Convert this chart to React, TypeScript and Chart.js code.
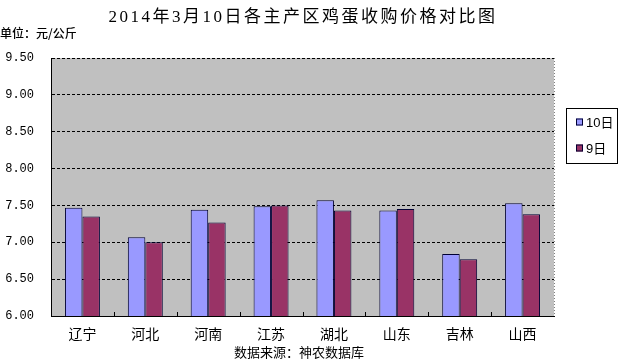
import React, { useEffect, useRef } from "react";
import { Chart, registerables } from "chart.js";

Chart.register(...registerables);

const categories = ["辽宁", "河北", "河南", "江苏", "湖北", "山东", "吉林", "山西"];
const day10 = [7.47, 7.07, 7.44, 7.49, 7.57, 7.43, 6.84, 7.53];
const day9 = [7.35, 7.0, 7.27, 7.5, 7.43, 7.45, 6.77, 7.38];
const seriesNames = ["10日", "9日"];
const seriesColors = ["#9999FF", "#993366"];
const titleText = "2014年3月10日各主产区鸡蛋收购价格对比图";
const unitText = "单位：元/公斤";
const sourceText = "数据来源：神农数据库";

const CJK = '"Noto Sans CJK SC"';

const decorPlugin = {
  id: "decor",
  beforeDraw(chart: any) {
    const { ctx, chartArea: a } = chart;
    ctx.save();
    ctx.fillStyle = "#C0C0C0";
    ctx.fillRect(a.left, a.top, a.right - a.left, a.bottom - a.top);
    ctx.restore();
  },
  afterDraw(chart: any) {
    const { ctx, chartArea: a } = chart;
    const x = chart.scales.x;
    ctx.save();
    // right dotted edge
    ctx.strokeStyle = "#808080";
    ctx.lineWidth = 1;
    ctx.setLineDash([1, 2]);
    ctx.beginPath();
    ctx.moveTo(Math.round(a.right) + 0.5, a.top);
    ctx.lineTo(Math.round(a.right) + 0.5, a.bottom);
    ctx.stroke();
    ctx.setLineDash([]);
    // inner x ticks at category boundaries
    ctx.strokeStyle = "#000";
    const n = chart.data.labels.length;
    for (let i = 0; i < n - 1; i++) {
      const bx = Math.round((x.getPixelForTick(i) + x.getPixelForTick(i + 1)) / 2) + 0.5;
      ctx.beginPath();
      ctx.moveTo(bx, a.bottom);
      ctx.lineTo(bx, a.bottom - 4);
      ctx.stroke();
    }
    // title
    ctx.fillStyle = "#000";
    ctx.textBaseline = "middle";
    ctx.textAlign = "center";
    (ctx as any).letterSpacing = "2.5px";
    ctx.font = `17px "Liberation Serif", ${CJK}`;
    ctx.fillText(titleText, 303, 18);
    (ctx as any).letterSpacing = "0px";
    // unit
    ctx.textAlign = "left";
    ctx.font = `500 12px ${CJK}`;
    ctx.fillText(unitText, 0, 33);
    // source
    ctx.textAlign = "center";
    ctx.font = `13px ${CJK}`;
    ctx.fillText(sourceText, 299, 352);
    // legend
    ctx.strokeStyle = "#000";
    ctx.lineWidth = 1;
    ctx.strokeRect(566.5, 108.5, 51, 55);
    const ds = chart.data.datasets;
    const ys = [122, 148];
    ctx.textAlign = "left";
    ctx.font = `13px "Liberation Sans", ${CJK}`;
    ds.forEach((d: any, i: number) => {
      ctx.fillStyle = d.backgroundColor;
      ctx.fillRect(576, ys[i] - 3.5, 7, 7);
      ctx.strokeStyle = "#000033";
      ctx.strokeRect(576.5, ys[i] - 3.5 + 0.5, 6, 6);
      ctx.fillStyle = "#000";
      ctx.fillText(d.label, 586, ys[i] + 1);
    });
    ctx.restore();
  },
};

export default function App() {
  const ref = useRef<HTMLCanvasElement>(null);
  useEffect(() => {
    if (!ref.current) return;
    const chart = new Chart(ref.current, {
      type: "bar",
      data: {
        labels: categories,
        datasets: [
          {
            label: seriesNames[0],
            data: day10,
            backgroundColor: seriesColors[0],
            borderColor: "#000033",
            borderWidth: 1,
            categoryPercentage: 0.556,
            barPercentage: 1,
          },
          {
            label: seriesNames[1],
            data: day9,
            backgroundColor: seriesColors[1],
            borderColor: "#000033",
            borderWidth: 1,
            categoryPercentage: 0.556,
            barPercentage: 1,
          },
        ],
      },
      options: {
        animation: false,
        responsive: false,
        maintainAspectRatio: false,
        layout: { padding: { top: 58, right: 75, left: 0, bottom: 0 } },
        plugins: {
          legend: { display: false },
          title: { display: false },
          tooltip: { enabled: false },
        },
        scales: {
          x: {
            grid: { display: false, drawTicks: false, tickLength: 0 },
            border: { display: true, color: "#000", width: 1 },
            ticks: {
              color: "#000",
              padding: 9,
              font: { family: "Noto Sans CJK SC", size: 14 },
            },
            afterFit(scale: any) {
              scale.height = 44;
            },
          },
          y: {
            min: 6,
            max: 9.5,
            ticks: {
              stepSize: 0.5,
              color: "#000",
              padding: 17,
              font: { family: "Liberation Mono", size: 12 },
              callback: (v: any) => Number(v).toFixed(2),
            },
            grid: { color: "#000", lineWidth: 1, drawTicks: false },
            border: { display: true, color: "#000", width: 1, dash: [3, 2] },
            afterFit(scale: any) {
              scale.width = 51;
            },
          },
        },
      },
      plugins: [decorPlugin],
    });
    return () => chart.destroy();
  }, []);
  return (
    <div style={{ position: "fixed", left: 0, top: 0, width: 629, height: 360, background: "#fff" }}>
      <canvas ref={ref} width={629} height={360} style={{ width: 629, height: 360 }} />
    </div>
  );
}
